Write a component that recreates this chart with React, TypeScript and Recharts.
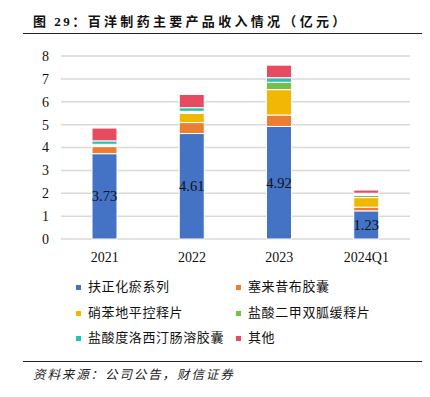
import React from 'react';
import { BarChart, Bar, XAxis, YAxis, CartesianGrid, LabelList, Cell } from 'recharts';

const categories = ['2021', '2022', '2023', '2024Q1'];
const fuzhengHuayu = [3.73, 4.61, 4.92, 1.23];
const sailaixibu = [0.31, 0.48, 0.5, 0.16];
const xiaobendiping = [0, 0.4, 1.11, 0.42];
const erjiashuanggua = [0.1, 0.09, 0.32, 0.1];
const duoluoxiting = [0.15, 0.16, 0.2, 0.09];
const qita = [0.56, 0.58, 0.55, 0.14];
const yTicks = [0, 1, 2, 3, 4, 5, 6, 7, 8];

// segments that appear unfilled (white) in the reference
const unfilledErjia = ['2021', '2022'];
const unfilledDuoluo = ['2024Q1'];

const series = [
  { key: 'fz', name: '扶正化瘀系列', color: '#4472C4', values: fuzhengHuayu },
  { key: 'sl', name: '塞来昔布胶囊', color: '#ED7D31', values: sailaixibu },
  { key: 'xb', name: '硝苯地平控释片', color: '#F2B705', values: xiaobendiping },
  { key: 'ej', name: '盐酸二甲双胍缓释片', color: '#79BE46', values: erjiashuanggua },
  { key: 'dl', name: '盐酸度洛西汀肠溶胶囊', color: '#2FBFAE', values: duoluoxiting },
  { key: 'qt', name: '其他', color: '#E64C61', values: qita },
];

const data = categories.map((c, i) => {
  const row: any = { cat: c };
  series.forEach((s) => {
    row[s.key] = s.values[i];
  });
  return row;
});

const serif = "'Liberation Serif', 'Times New Roman', 'Noto Sans CJK SC', serif";
const cjk = "'Liberation Serif', 'Noto Sans CJK SC', sans-serif";

export default function App() {
  return (
    <div
      style={{
        position: 'absolute',
        left: 0,
        top: 0,
        width: 430,
        height: 397,
        background: '#fff',
        overflow: 'hidden',
      }}
    >
      <div
        style={{
          position: 'absolute',
          left: 33,
          top: 13,
          fontFamily: cjk,
          fontWeight: 'bold',
          fontSize: 13,
          whiteSpace: 'nowrap',
          lineHeight: '18px',
          color: '#111',
        }}
      >
        <span style={{ letterSpacing: 2.5 }}>图 29：</span>
        <span style={{ letterSpacing: 3.3 }}>百洋制药主要产品收入情况（亿元）</span>
      </div>
      <div style={{ position: 'absolute', left: 23, top: 33, width: 399, height: 1, background: '#222' }} />

      <div style={{ position: 'absolute', left: 0, top: 0 }}>
        <BarChart
          width={430}
          height={270}
          data={data}
          margin={{ top: 56, right: 20, left: 0, bottom: 1 }}
          barSize={25}
        >
          <CartesianGrid vertical={false} stroke="#D9D9D9" strokeWidth={1.5} />
          <XAxis
            dataKey="cat"
            axisLine={false}
            tickLine={false}
            tickSize={0}
            tickMargin={13}
            height={30}
            interval={0}
            tick={{ fill: '#111', fontSize: 14, fontFamily: serif }}
          />
          <YAxis
            width={61}
            domain={[0, 8]}
            ticks={yTicks}
            axisLine={false}
            tickLine={false}
            tickSize={0}
            tickMargin={12}
            interval={0}
            tick={{ fill: '#111', fontSize: 14, fontFamily: serif }}
          />
          {series.map((s) => (
            <Bar
              key={s.key}
              dataKey={s.key}
              name={s.name}
              stackId="a"
              fill={s.color}
              stroke="#fff"
              strokeWidth={1}
              isAnimationActive={false}
            >
              {data.map((d) => {
                const hidden =
                  (s.key === 'ej' && unfilledErjia.includes(d.cat)) ||
                  (s.key === 'dl' && unfilledDuoluo.includes(d.cat));
                return <Cell key={d.cat} fill={hidden ? '#fff' : s.color} />;
              })}
              {s.key === 'fz' ? (
                <LabelList
                  dataKey="fz"
                  position="center"
                  fill="#111"
                  fontSize={14.5}
                  fontFamily={serif}
                />
              ) : null}
            </Bar>
          ))}
        </BarChart>
      </div>

      {series.map((s, i) => {
        const col = i % 2;
        const row = Math.floor(i / 2);
        const rowY = [287, 313, 338][row];
        const left = col === 0 ? 76 : 236;
        return (
          <div
            key={s.key}
            style={{
              position: 'absolute',
              left,
              top: rowY - 9,
              height: 18,
              display: 'flex',
              alignItems: 'center',
              whiteSpace: 'nowrap',
            }}
          >
            <div style={{ width: 5, height: 5, background: s.color, marginRight: 7 }} />
            <span
              style={{
                fontFamily: cjk,
                fontSize: 13,
                letterSpacing: 0.6,
                color: '#111',
                lineHeight: '18px',
              }}
            >
              {s.name}
            </span>
          </div>
        );
      })}

      <div style={{ position: 'absolute', left: 23, top: 361, width: 399, height: 1, background: '#222' }} />
      <div
        style={{
          position: 'absolute',
          left: 33,
          top: 366,
          fontFamily: cjk,
          fontStyle: 'italic',
          fontSize: 12.5,
          letterSpacing: 1.9,
          whiteSpace: 'nowrap',
          lineHeight: '18px',
          color: '#222',
        }}
      >
        资料来源：公司公告，财信证券
      </div>
    </div>
  );
}
